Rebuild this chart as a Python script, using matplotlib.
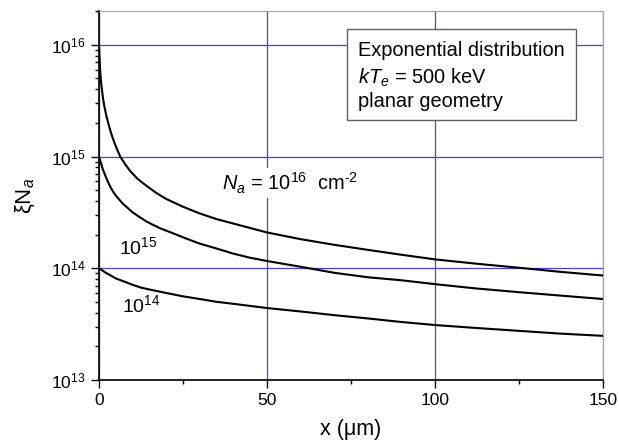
import matplotlib
matplotlib.use("Agg")
import matplotlib.pyplot as plt
from matplotlib.patches import Rectangle
from matplotlib.ticker import LogLocator, MultipleLocator, NullFormatter

plt.rcParams['font.family'] = ['Liberation Sans', 'DejaVu Sans']
plt.rcParams['mathtext.fontset'] = 'custom'
plt.rcParams['mathtext.rm'] = 'Liberation Sans'
plt.rcParams['mathtext.it'] = 'Liberation Sans:italic'

# curves, x in micrometres
x_16 = [0, 0.1, 0.2, 0.4, 0.6, 0.8, 1.2, 1.6, 2.2, 3.0, 4.0, 5.0, 6.3, 7.8, 9.3, 11.5, 14, 17,
        20, 25, 30, 35, 40, 50, 60, 70, 80, 90, 100, 112, 125, 137, 150]
y_16 = [1.0e16, 8.3e15, 7.1e15, 5.5e15, 4.7e15, 4.1e15, 3.3e15, 2.8e15, 2.3e15, 1.86e15,
        1.48e15, 1.23e15, 1.0e15, 8.5e14, 7.4e14, 6.3e14, 5.5e14, 4.73e14, 4.17e14, 3.55e14,
        3.09e14, 2.75e14, 2.51e14, 2.09e14, 1.82e14, 1.62e14, 1.46e14, 1.32e14, 1.2e14,
        1.1e14, 1.01e14, 9.3e13, 8.6e13]

x_15 = [0, 0.3, 0.6, 1, 1.5, 2, 2.7, 3.5, 4.2, 5, 6, 7, 8.5, 10, 12, 14, 16, 18, 20.5, 23,
        26, 30, 35, 40, 45, 50, 60, 70, 80, 90, 100, 112, 125, 137, 150]
y_15 = [1.0e15, 9.3e14, 8.7e14, 7.9e14, 7.2e14, 6.6e14, 5.9e14, 5.25e14, 4.84e14, 4.47e14,
        4.12e14, 3.8e14, 3.47e14, 3.16e14, 2.88e14, 2.63e14, 2.45e14, 2.29e14, 2.14e14,
        2.0e14, 1.84e14, 1.66e14, 1.5e14, 1.35e14, 1.24e14, 1.16e14, 1.03e14, 9.1e13,
        8.3e13, 7.8e13, 7.2e13, 6.6e13, 6.1e13, 5.7e13, 5.3e13]

x_14 = [0, 1, 2, 3.5, 5, 7, 10, 12.5, 15, 20, 25, 30, 35, 40, 50, 60, 70, 80, 90, 100,
        112, 125, 137, 150]
y_14 = [1.0e14, 9.55e13, 9.1e13, 8.6e13, 8.1e13, 7.7e13, 7.1e13, 6.7e13, 6.45e13, 6.0e13,
        5.6e13, 5.3e13, 5.0e13, 4.8e13, 4.4e13, 4.1e13, 3.8e13, 3.55e13, 3.3e13, 3.1e13,
        2.92e13, 2.75e13, 2.6e13, 2.48e13]

box_lines = ['Exponential distribution', '$kT_e$ = 500 keV', 'planar geometry']

fig = plt.figure(figsize=(6.19, 4.48), dpi=100)
ax = fig.add_axes([0.16, 0.152, 0.814, 0.823])

for xs, ys in [(x_16, y_16), (x_15, y_15), (x_14, y_14)]:
    ax.plot(xs, ys, color='black', lw=1.5, zorder=3)

ax.set_yscale('log')
ax.set_xlim(0, 150)
ax.set_ylim(1e13, 2e16)
ax.xaxis.set_major_locator(MultipleLocator(50))
ax.xaxis.set_minor_locator(MultipleLocator(25))
ax.yaxis.set_major_locator(LogLocator(base=10, numticks=10))
ax.yaxis.set_minor_locator(LogLocator(base=10, subs=range(2, 10), numticks=20))
ax.yaxis.set_minor_formatter(NullFormatter())
ax.tick_params(which='major', length=6, width=1, labelsize=12.5, direction='out')
ax.tick_params(which='minor', length=3, width=1, direction='out')
ax.tick_params(top=False, right=False)

ax.grid(True, which='major', color='#4444e6', lw=0.9)
ax.set_axisbelow(True)

for s in ['left', 'bottom']:
    ax.spines[s].set_linewidth(1.2)
for s in ['top', 'right']:
    ax.spines[s].set_color('#a0a0a0')

ax.set_xlabel('x (μm)', fontsize=15.5, labelpad=8)
ax.set_ylabel('ξN$_a$', fontsize=16, labelpad=10)

# text box at the upper right
ax.add_patch(Rectangle((0.492, 0.705), 0.454, 0.248, transform=ax.transAxes,
                       facecolor='white', edgecolor='#606060', lw=1, zorder=4))
for txt, yb in zip(box_lines, [0.879, 0.804, 0.739]):
    ax.text(0.514, yb, txt, transform=ax.transAxes, fontsize=14.4,
            va='baseline', ha='left', zorder=5)

# curve labels
ax.text(0.244, 0.515, r'$N_a$ = 10$^{16}$  cm$^{\text{-}2}$', transform=ax.transAxes,
        fontsize=14.4, va='baseline', ha='left', zorder=5,
        bbox=dict(facecolor='white', edgecolor='none', pad=2))
ax.text(0.039, 0.341, r'10$^{15}$', transform=ax.transAxes, fontsize=14,
        va='baseline', ha='left', zorder=5)
ax.text(0.046, 0.185, r'10$^{14}$', transform=ax.transAxes, fontsize=14,
        va='baseline', ha='left', zorder=5)

fig.savefig('out.png', dpi=100)
